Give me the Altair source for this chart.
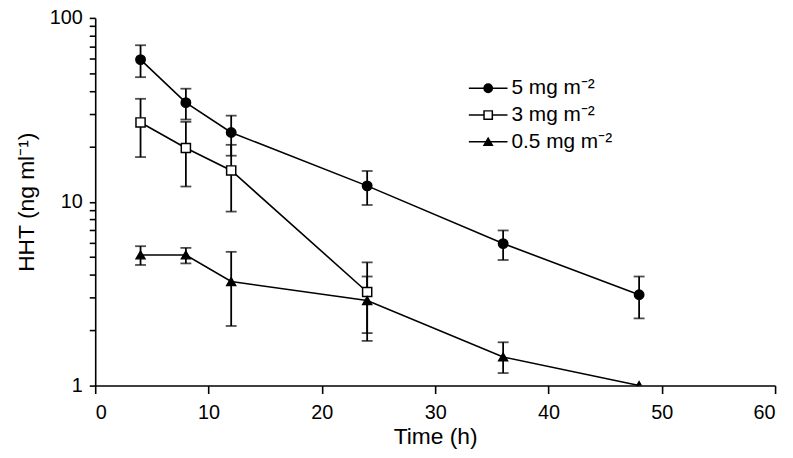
import altair as alt
import pandas as pd
import numpy as np

# ---- data ----
labels = ["5 mg m⁻²", "3 mg m⁻²", "0.5 mg m⁻²"]

times_5 = [4, 8, 12, 24, 36, 48]
mean_5 = [59.3, 34.6, 23.8, 12.2, 5.92, 3.12]
lo_5 = [47.6, 28.0, 17.8, 9.6, 4.82, 2.32]
hi_5 = [71.0, 41.2, 29.4, 14.7, 6.98, 3.92]

times_3 = [4, 8, 12, 24]
mean_3 = [27.0, 19.6, 14.8, 3.23]
lo_3 = [17.5, 12.1, 8.84, 1.75]
hi_3 = [36.3, 27.2, 20.4, 4.68]

times_05 = [4, 8, 12, 24, 36, 48]
mean_05 = [5.13, 5.13, 3.68, 2.90, 1.43, 1.0]
lo_05 = [4.53, 4.62, 2.11, 1.93, 1.17, np.nan]
hi_05 = [5.73, 5.61, 5.34, 3.92, 1.72, np.nan]

x_ticks = [0, 10, 20, 30, 40, 50, 60]
y_ticks = [1, 2, 3, 4, 5, 6, 7, 8, 9, 10, 20, 30, 40, 50, 60, 70, 80, 90, 100]

rows = []
for lab, t, m, lo, hi in [
    (labels[0], times_5, mean_5, lo_5, hi_5),
    (labels[1], times_3, mean_3, lo_3, hi_3),
    (labels[2], times_05, mean_05, lo_05, hi_05),
]:
    for a, b, c, d in zip(t, m, lo, hi):
        rows.append({"series": lab, "time": a, "mean": b, "lo": c, "hi": d})
df = pd.DataFrame(rows)
err = df.dropna()

FONT = "Liberation Sans, Arial, Helvetica, sans-serif"

shape_scale = alt.Scale(domain=labels, range=["circle", "square", "triangle-up"])
fill_scale = alt.Scale(domain=labels, range=["black", "white", "black"])
size_scale = alt.Scale(domain=labels, range=[90, 80, 80])

xenc = alt.X("time:Q", scale=alt.Scale(domain=[0, 60], nice=False),
             axis=alt.Axis(values=x_ticks, title="Time (h)", format="d"))
yscale = alt.Scale(type="log", domain=[1, 100], nice=False)
yaxis = alt.Axis(values=y_ticks, title="HHT (ng ml⁻¹)",
                 labelExpr="(datum.value == 1 || datum.value == 10 || datum.value == 100) ? datum.label : ''",
                 format="d")

base = alt.Chart(df)

lines = base.mark_line(color="black", strokeWidth=1.6).encode(
    x=xenc,
    y=alt.Y("mean:Q", scale=yscale, axis=yaxis),
    detail="series:N",
)

rules = alt.Chart(err).mark_rule(color="black", strokeWidth=1.8).encode(
    x="time:Q", y="lo:Q", y2="hi:Q"
)
caps_hi = alt.Chart(err).mark_tick(color="black", orient="horizontal", size=11, thickness=1.8).encode(
    x="time:Q", y="hi:Q"
)
caps_lo = alt.Chart(err).mark_tick(color="black", orient="horizontal", size=11, thickness=1.8).encode(
    x="time:Q", y="lo:Q"
)

points = base.mark_point(filled=False, stroke="black", strokeWidth=1.5, opacity=1, clip=True).encode(
    x="time:Q",
    y="mean:Q",
    shape=alt.Shape("series:N", scale=shape_scale, legend=None),
    fill=alt.Fill("series:N", scale=fill_scale, legend=None),
    size=alt.Size("series:N", scale=size_scale, legend=None),
)

# ---- manual legend (line + symbol + label) ----
leg_layers = []
LX0, LX1, LY, LSTEP = 377, 416, 71, 27
for i, lab in enumerate(labels):
    ly = LY + i * LSTEP
    one = pd.DataFrame({"series": [lab]})
    leg_layers.append(
        alt.Chart(one).mark_rule(color="black", strokeWidth=1.6).encode(
            x=alt.value(LX0), x2=alt.value(LX1), y=alt.value(ly))
    )
    leg_layers.append(
        alt.Chart(one).mark_point(stroke="black", strokeWidth=1.5, size=70, opacity=1).encode(
            x=alt.value((LX0 + LX1) / 2), y=alt.value(ly),
            shape=alt.Shape("series:N", scale=shape_scale, legend=None),
            fill=alt.Fill("series:N", scale=fill_scale, legend=None))
    )
    leg_layers.append(
        alt.Chart(one).mark_text(align="left", baseline="middle", font=FONT, fontSize=21, color="black").encode(
            x=alt.value(LX1 + 4), y=alt.value(ly), text="series:N")
    )

chart = alt.layer(lines, rules, caps_hi, caps_lo, points, *leg_layers).properties(
    width=686,
    height=371,
    autosize=alt.AutoSizeParams(type="none"),
    padding={"left": 88, "top": 8, "right": 10, "bottom": 62},
).configure_view(stroke=None).configure_axis(
    grid=False,
    domainColor="black",
    domainWidth=1.6,
    tickColor="black",
    tickWidth=1.6,
    labelFont=FONT,
    labelFontSize=20,
    labelColor="black",
    titleFont=FONT,
    titleFontSize=23,
    titleFontWeight="normal",
    titleColor="black",
).configure_axisX(tickSize=8, labelPadding=9, titlePadding=3).configure_axisY(
    tickSize=6, labelPadding=7, titlePadding=11)

chart.save("out.html", embed_options={"renderer": "svg", "actions": False})
